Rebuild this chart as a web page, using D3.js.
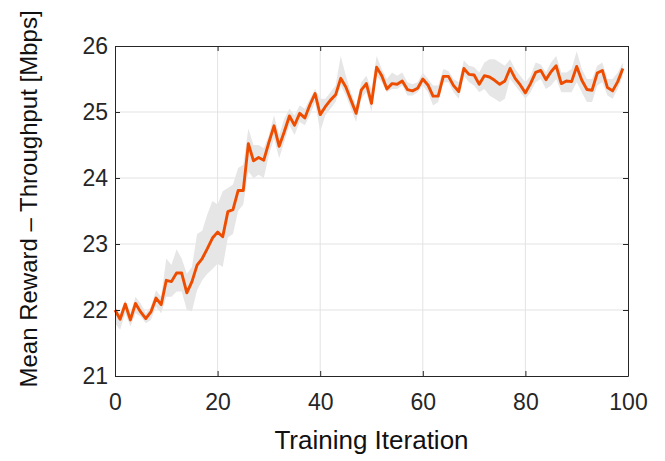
<!DOCTYPE html>
<html>
<head>
<meta charset="utf-8">
<script src="https://cdn.jsdelivr.net/npm/d3@7"></script>
<style>
  body { margin: 0; background: white; }
  svg { display: block; }
  text { font-family: "Liberation Sans", Arial, Helvetica, sans-serif; }
</style>
</head>
<body>
<div id="chart"></div>
<script>
// mean reward per training iteration (0..99)
const meanReward = [
  22.00, 21.86, 22.09, 21.85, 22.10, 21.97, 21.87, 21.97, 22.18, 22.08,
  22.45, 22.43, 22.56, 22.56, 22.26, 22.43, 22.68, 22.78, 22.93, 23.09,
  23.18, 23.11, 23.49, 23.52, 23.81, 23.81, 24.52, 24.26, 24.31, 24.27,
  24.54, 24.79, 24.48, 24.70, 24.94, 24.80, 24.98, 24.91, 25.11, 25.28,
  24.96, 25.08, 25.18, 25.26, 25.51, 25.38, 25.18, 24.98, 25.33, 25.43,
  25.13, 25.68, 25.55, 25.35, 25.43, 25.42, 25.47, 25.34, 25.32, 25.36,
  25.50, 25.41, 25.24, 25.24, 25.54, 25.54, 25.40, 25.31, 25.66, 25.57,
  25.56, 25.42, 25.55, 25.53, 25.48, 25.42, 25.47, 25.66, 25.51, 25.41,
  25.29, 25.43, 25.60, 25.63, 25.49, 25.61, 25.70, 25.43, 25.47, 25.46,
  25.69, 25.48, 25.34, 25.33, 25.59, 25.63, 25.37, 25.32, 25.46, 25.66
]
// shaded band, upper edge
const bandHigh = [
  22.05, 21.95, 22.15, 21.95, 22.20, 22.10, 21.95, 22.05, 22.30, 22.20,
  22.78, 22.68, 22.92, 22.78, 22.55, 22.65, 23.15, 23.20, 23.45, 23.65,
  23.60, 23.80, 23.85, 23.90, 24.15, 24.20, 24.75, 24.50, 24.50, 24.45,
  24.65, 24.95, 24.65, 24.90, 25.05, 24.95, 25.10, 25.05, 25.20, 25.35,
  25.20, 25.20, 25.30, 25.40, 25.85, 25.55, 25.30, 25.10, 25.45, 25.55,
  25.35, 25.85, 25.65, 25.50, 25.60, 25.55, 25.60, 25.45, 25.42, 25.45,
  25.60, 25.50, 25.40, 25.40, 25.65, 25.62, 25.50, 25.45, 25.78, 25.70,
  25.68, 25.60, 25.75, 25.80, 25.80, 25.75, 25.70, 25.80, 25.65, 25.55,
  25.45, 25.55, 25.75, 25.72, 25.60, 25.75, 25.85, 25.60, 25.60, 25.65,
  25.92, 25.65, 25.50, 25.50, 25.70, 25.75, 25.50, 25.50, 25.60, 25.75
]
// shaded band, lower edge
const bandLow = [
  21.80, 21.70, 21.95, 21.75, 21.95, 21.90, 21.80, 21.85, 22.05, 21.95,
  22.20, 22.20, 22.28, 22.28, 22.00, 21.98, 22.30, 22.45, 22.55, 22.62,
  22.70, 22.65, 23.10, 23.15, 23.50, 23.60, 24.10, 24.00, 24.05, 24.00,
  24.35, 24.60, 24.30, 24.55, 24.80, 24.65, 24.85, 24.80, 24.95, 25.15,
  24.70, 24.95, 25.05, 25.15, 25.40, 25.25, 25.05, 24.85, 25.20, 25.30,
  25.00, 25.55, 25.45, 25.30, 25.35, 25.35, 25.40, 25.25, 25.25, 25.30,
  25.40, 25.30, 25.10, 25.15, 25.45, 25.45, 25.30, 25.20, 25.55, 25.45,
  25.40, 25.30, 25.35, 25.25, 25.20, 25.15, 25.20, 25.50, 25.40, 25.30,
  25.20, 25.30, 25.45, 25.50, 25.35, 25.40, 25.50, 25.30, 25.30, 25.30,
  25.45, 25.30, 25.15, 25.15, 25.40, 25.45, 25.25, 25.20, 25.35, 25.55
]
const xTicks = [0, 20, 40, 60, 80, 100]
const yTicks = [21, 22, 23, 24, 25, 26]

const W = 665, H = 461
const margin = { left: 115, right: 37, top: 46, bottom: 85 }
const axisColor = '#262626'
const gridColor = '#e3e3e3'

const svg = d3.select('#chart').append('svg')
    .attr('width', W).attr('height', H)

const x = d3.scaleLinear().domain([0, 100]).range([margin.left, W - margin.right])
const y = d3.scaleLinear().domain([21, 26]).range([H - margin.bottom, margin.top])

const rows = meanReward.map((v, i) => ({ i: i, v: v, lo: bandLow[i], hi: bandHigh[i] }))

// grid lines
svg.append('g').selectAll('line.gx')
    .data(xTicks.slice(1, -1))
    .enter().append('line')
    .attr('x1', d => x(d)).attr('x2', d => x(d))
    .attr('y1', y(21)).attr('y2', y(26))
    .attr('stroke', gridColor).attr('stroke-width', 1)
svg.append('g').selectAll('line.gy')
    .data(yTicks.slice(1, -1))
    .enter().append('line')
    .attr('x1', x(0)).attr('x2', x(100))
    .attr('y1', d => y(d)).attr('y2', d => y(d))
    .attr('stroke', gridColor).attr('stroke-width', 1)

// band
const area = d3.area()
    .x(d => x(d.i))
    .y0(d => y(d.lo))
    .y1(d => y(d.hi))
svg.append('path').datum(rows)
    .attr('d', area)
    .attr('fill', '#e6e6e6')

// mean line
const line = d3.line()
    .x(d => x(d.i))
    .y(d => y(d.v))
svg.append('path').datum(rows)
    .attr('d', line)
    .attr('fill', 'none')
    .attr('stroke', '#ee4d00')
    .attr('stroke-width', 2.9)
    .attr('stroke-linejoin', 'round')

// axes: ticks pointing inward, box on all four sides
const tk = 5
svg.append('g')
    .attr('transform', 'translate(0,' + y(21) + ')')
    .call(d3.axisBottom(x).tickValues(xTicks).tickSizeInner(-tk).tickSizeOuter(0).tickPadding(18))
svg.append('g')
    .attr('transform', 'translate(0,' + y(26) + ')')
    .call(d3.axisTop(x).tickValues(xTicks).tickSizeInner(-tk).tickSizeOuter(0).tickFormat(''))
svg.append('g')
    .attr('transform', 'translate(' + x(0) + ',0)')
    .call(d3.axisLeft(y).tickValues(yTicks).tickSizeInner(-tk).tickSizeOuter(0)
        .tickPadding(7).tickFormat(d3.format('d')))
svg.append('g')
    .attr('transform', 'translate(' + x(100) + ',0)')
    .call(d3.axisRight(y).tickValues(yTicks).tickSizeInner(-tk).tickSizeOuter(0).tickFormat(''))

svg.selectAll('.domain').attr('stroke', axisColor).attr('stroke-width', 1)
svg.selectAll('.tick line').attr('stroke', axisColor)
svg.selectAll('.tick text')
    .attr('fill', axisColor)
    .style('font-size', '23px')
    .style('font-family', '"Liberation Sans", Arial, Helvetica, sans-serif')

// axis titles
svg.append('text')
    .attr('x', (x(0) + x(100)) / 2).attr('y', 449)
    .attr('text-anchor', 'middle')
    .style('font-size', '26px')
    .attr('fill', '#111')
    .text('Training Iteration')

svg.append('text')
    .attr('transform', 'translate(37,' + 199 + ') rotate(-90)')
    .attr('text-anchor', 'middle')
    .style('font-size', '24px')
    .attr('fill', '#111')
    .text('Mean Reward – Throughput [Mbps]')
</script>
</body>
</html>
